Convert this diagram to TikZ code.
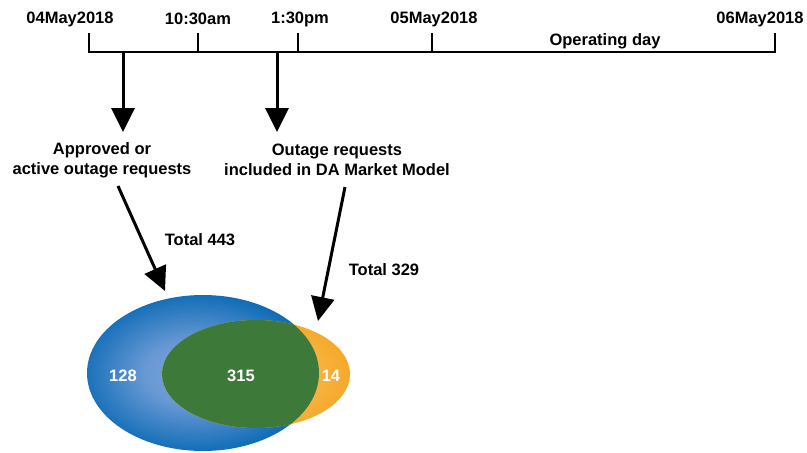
\documentclass[tikz,border=0pt]{standalone}
\usepackage{fontspec}
\setmainfont{Liberation Sans}
\usetikzlibrary{arrows.meta}
\definecolor{blueedge}{HTML}{0868B4}
\definecolor{bluecenter}{HTML}{7AA2DA}
\definecolor{orangeedge}{HTML}{F5A623}
\definecolor{orangecenter}{HTML}{FDD28C}
\definecolor{vgreen}{HTML}{3D7A3A}
\pgfdeclareradialshading{blueshade}{\pgfpoint{-3bp}{0bp}}{color(0bp)=(bluecenter); color(10bp)=(bluecenter!85!blueedge); color(27bp)=(blueedge); color(50bp)=(blueedge)}
\pgfdeclareradialshading{orangeshade}{\pgfpoint{-9bp}{0bp}}{color(0bp)=(orangecenter); color(16bp)=(orangecenter!45!orangeedge); color(31bp)=(orangeedge); color(50bp)=(orangeedge)}
\begin{document}
\begin{tikzpicture}[x=1pt,y=-1pt,
  lbl/.style={font=\fontsize{16.5}{20}\selectfont\bfseries, inner sep=0pt, align=center},
  num/.style={lbl, text=white},
  tl/.style={line width=2.5pt},
  arr/.style={line width=3pt, -{Triangle[width=23pt,length=24pt]}}]
\useasboundingbox (0,0) rectangle (807,453);
% timeline
\coordinate (t0) at (89,52);
\coordinate (t1) at (198,52);
\coordinate (t2) at (298,52);
\coordinate (t3) at (432,52);
\coordinate (t4) at (775,52);
\draw[tl] (89,33) -- (t0) -- (t4) -- (775,33);
\draw[tl] (t1) -- (198,33);
\draw[tl] (t2) -- (298,33);
\draw[tl] (t3) -- (432,33);
\node[lbl] (d0) at (70,19) {04May2018};
\node[lbl] (d1) at (198,19) {10:30am};
\node[lbl] (d2) at (300,19) {1:30pm};
\node[lbl] (d3) at (434,19) {05May2018};
\node[lbl] (d4) at (760,19) {06May2018};
\node[lbl] (op) at (605,41) {Operating day};
% down arrows
\coordinate (a1s) at (123,52);
\coordinate (a1e) at (123,132);
\coordinate (a2s) at (277,52);
\coordinate (a2e) at (277,132);
\draw[arr] (a1s) -- (a1e);
\draw[arr] (a2s) -- (a2e);
\node[lbl] (req1) at (102,160) {Approved or\\active outage requests};
\node[lbl] (req2) at (337,160) {Outage requests\\included in DA Market Model};
% ellipses
\path[shading=blueshade] (203,373) ellipse [x radius=116, y radius=78];
\path[shading=orangeshade] (256,374) ellipse [x radius=94, y radius=54];
\begin{scope}
  \clip (203,373) ellipse [x radius=116, y radius=78];
  \fill[vgreen] (256,374) ellipse [x radius=94, y radius=54];
\end{scope}
\node[num] (n1) at (123,376) {128};
\node[num] (n2) at (241,376) {315};
\node[num] (n3) at (331,376) {14};
% diagonal arrows
\coordinate (b1s) at (118,186);
\coordinate (b1e) at (165,291);
\coordinate (b2s) at (345,187);
\coordinate (b2e) at (318,321);
\draw[arr] (b1s) -- (b1e);
\draw[arr] (b2s) -- (b2e);
\node[lbl] (tot1) at (200,240) {Total 443};
\node[lbl] (tot2) at (384,270) {Total 329};
\end{tikzpicture}
\end{document}
